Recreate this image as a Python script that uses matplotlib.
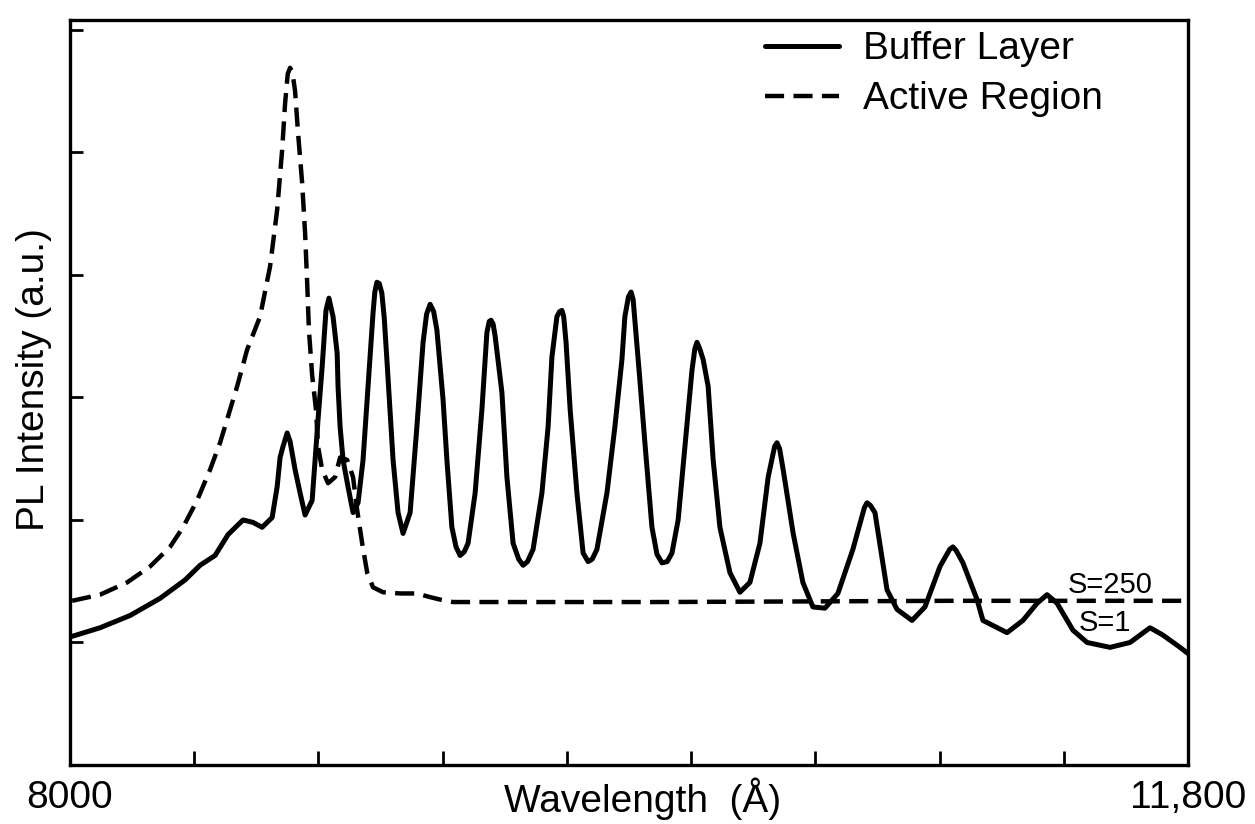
import matplotlib
matplotlib.use("Agg")
import matplotlib.pyplot as plt

plt.rcParams['font.family'] = ['Liberation Sans', 'DejaVu Sans']

# Buffer Layer (solid) : wavelength (Å), PL intensity (a.u.)
buffer_wl = [8007, 8102, 8204, 8306, 8391, 8442, 8493, 8537, 8588, 8622, 8653, 8687,
             8704, 8714, 8724, 8738, 8748, 8765, 8782, 8799, 8823, 8833, 8843, 8857,
             8870, 8880, 8894, 8908, 8911, 8918, 8928, 8945, 8962, 8979, 8996, 9013,
             9030, 9036, 9043, 9051, 9060, 9068, 9077, 9098, 9115, 9132, 9156, 9179,
             9200, 9212, 9224, 9236, 9247,
             9268, 9281, 9298, 9312, 9326, 9340, 9353, 9377, 9400, 9417, 9425, 9431,
             9438, 9445, 9468, 9485,
             9506, 9525, 9540, 9555, 9574, 9604, 9625, 9638, 9655, 9664, 9672, 9678,
             9686, 9700, 9723, 9744,
             9761, 9775, 9791, 9825, 9852, 9876, 9886, 9898, 9907, 9914, 9920, 9937,
             9954, 9978, 9995, 10012,
             10030, 10046, 10067, 10090, 10114, 10124, 10131, 10140, 10152, 10169, 10186,
             10209, 10243, 10277,
             10311, 10345, 10373, 10395, 10403, 10412, 10424, 10458, 10491, 10525, 10566,
             10610, 10661, 10700,
             10709, 10720, 10736, 10777, 10811, 10862, 10906, 10957, 10990, 11001, 11012,
             11035, 11083, 11103,
             11185, 11239, 11287, 11321, 11355, 11409, 11457, 11535, 11603, 11671, 11715,
             11773, 11800]
buffer_pl = [1.05, 1.12, 1.22, 1.36, 1.51, 1.63, 1.71, 1.88, 2.00, 1.98, 1.94, 2.02,
             2.27, 2.51, 2.60, 2.71, 2.64, 2.41, 2.22, 2.04, 2.16, 2.49, 2.82, 3.25,
             3.71, 3.81, 3.66, 3.36, 3.09, 2.76, 2.49, 2.27, 2.06, 2.14, 2.49, 3.09,
             3.69, 3.86, 3.94, 3.93, 3.85, 3.65, 3.31, 2.49, 2.06, 1.89, 2.06, 2.76,
             3.45, 3.68, 3.76, 3.70, 3.55,
             2.98, 2.49, 1.94, 1.78, 1.71, 1.74, 1.81, 2.22, 2.90, 3.53, 3.62, 3.63,
             3.60, 3.50, 3.04, 2.35,
             1.81, 1.68, 1.63, 1.66, 1.76, 2.22, 2.76, 3.33, 3.66, 3.70, 3.71, 3.66,
             3.45, 2.90, 2.22, 1.73,
             1.66, 1.68, 1.76, 2.22, 2.76, 3.31, 3.66, 3.82, 3.86, 3.80, 3.63, 3.14,
             2.63, 1.94, 1.72, 1.65,
             1.66, 1.73, 2.00, 2.60, 3.22, 3.40, 3.45, 3.40, 3.31, 3.09, 2.49,
             1.94, 1.57, 1.41,
             1.49, 1.81, 2.35, 2.60, 2.63, 2.58, 2.41, 1.89, 1.49, 1.29, 1.28,
             1.40, 1.76, 2.10,
             2.14, 2.12, 2.06, 1.43, 1.27, 1.18, 1.29, 1.62, 1.76, 1.78, 1.75,
             1.65, 1.35, 1.18,
             1.08, 1.18, 1.32, 1.39, 1.32, 1.10, 1.00, 0.96, 1.00, 1.12, 1.06,
             0.96, 0.91]

# Active Region (dashed)
active_wl = [8007, 8102, 8194, 8272, 8340, 8384, 8432, 8476, 8510, 8544, 8568, 8602,
             8646, 8680, 8704, 8721, 8731, 8740, 8748, 8756, 8765, 8775, 8789, 8799,
             8806, 8812, 8823, 8836, 8843, 8857, 8877, 8901, 8918, 8942, 8962, 8976,
             8993, 9010, 9030, 9064, 9122, 9179, 9224, 9258, 9302, 10000, 11000, 11800]
active_pl = [1.34, 1.39, 1.49, 1.62, 1.78, 1.94, 2.16, 2.41, 2.63, 2.90, 3.09, 3.39,
             3.66, 4.07, 4.53, 5.02, 5.40, 5.64, 5.69, 5.65, 5.50, 5.16, 4.75, 4.34,
             3.94, 3.55, 3.18, 2.90, 2.60, 2.41, 2.30, 2.35, 2.51, 2.49, 2.35, 2.08,
             1.81, 1.57, 1.45, 1.41, 1.40, 1.40, 1.37, 1.35, 1.33, 1.33, 1.34, 1.34]

x_range = [8000, 11800]
x_end_labels = ['8000', '11,800']
x_inner_ticks = [8422, 8844, 9267, 9689, 10111, 10533, 10956, 11378]
y_ticks = [1, 2, 3, 4, 5, 6]
y_top = 6.08

fig = plt.figure(figsize=(12.55, 8.24), dpi=100)
ax = fig.add_axes([0.0558, 0.0716, 0.8908, 0.9041])

ax.plot(buffer_wl, buffer_pl, color='black', lw=3.6, label='Buffer Layer',
        solid_joinstyle='round', solid_capstyle='round')
ax.plot(active_wl, active_pl, color='black', lw=3.2, linestyle=(0, (4.3, 2.1)),
        label='Active Region')

ax.set_xlim(*x_range)
ax.set_ylim(0, y_top)

ax.set_xticks(x_range)
ax.set_xticklabels(x_end_labels, fontsize=28)
ax.tick_params(axis='x', which='major', length=0, pad=11)
ax.set_xticks(x_inner_ticks, minor=True)
ax.tick_params(axis='x', which='minor', direction='in', length=10, width=2)
ax.set_yticks(y_ticks)
ax.set_yticklabels([])
ax.tick_params(axis='y', which='major', direction='in', length=9, width=2)

for s in ax.spines.values():
    s.set_linewidth(2.4)

ax.set_xlabel('Wavelength  (Å)', fontsize=28, labelpad=-28)
ax.xaxis.label.set_x(0.512)
ax.set_ylabel('PL Intensity (a.u.)', fontsize=28)
ax.yaxis.set_label_coords(-0.016, 0.517)

ax.legend(loc='upper left', bbox_to_anchor=(0.622, 0.985), frameon=False,
          fontsize=28, handlelength=1.88, handletextpad=0.62, labelspacing=0.36,
          borderpad=0, borderaxespad=0)

ax.text(11392, 1.40, 'S=250', fontsize=21, ha='left', va='baseline')
ax.text(11430, 1.16, 'S=1', fontsize=21, ha='left', va='center')

fig.savefig('out.png', dpi=100)
